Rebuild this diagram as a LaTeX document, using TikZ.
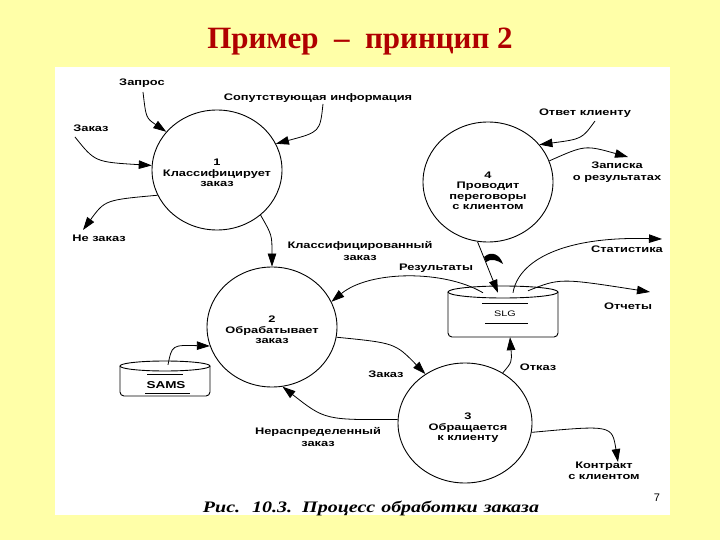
\documentclass[tikz,border=0pt]{standalone}
\usepackage{fontspec}
\setmainfont{Liberation Serif}
\newfontfamily\lblfont[FakeStretch=1.35]{Liberation Sans}
\newfontfamily\plainsans{Liberation Sans}
\newfontfamily\capfont[FakeStretch=1.25]{Liberation Serif}
\usetikzlibrary{arrows.meta,shapes.geometric}
\definecolor{slidebg}{RGB}{255,255,168}
\definecolor{titlered}{RGB}{176,0,0}
\begin{document}
\begin{tikzpicture}[x=1pt,y=-1pt,
  lbl/.style={font=\lblfont\bfseries\fontsize{9.5}{11.5}\selectfont, inner sep=0pt, align=center},
  ptxt/.style={font=\lblfont\bfseries\fontsize{9.5}{10.5}\selectfont, inner sep=0pt, align=center},
  proc/.style={draw, ellipse, line width=0.9pt, minimum width=130pt, minimum height=120pt, inner sep=0pt},
  flow/.style={line width=0.8pt, -{Triangle[length=13pt,width=8.5pt]}},
  store/.style={line width=0.9pt},
  hole/.style={inner sep=0pt}]
% background
\fill[slidebg] (0,0) rectangle (720,540);
\fill[white] (55,67) rectangle (670,515);
\useasboundingbox (0,0) rectangle (720,540);

% title
\node[font=\bfseries\fontsize{31}{34}\selectfont, text=titlered] (title) at (360,42) {Пример~~–~~принцип 2};

% processes
\node[proc] (c1) at (217,170) {};
\node[proc] (c2) at (272,327) {};
\node[proc, minimum width=134pt] (c3) at (465,423) {};
\node[proc] (c4) at (488,182) {};
\node[ptxt] (t1) at (217,173) {1\\Классифицирует\\заказ};
\node[ptxt] (t2) at (272,330) {2\\Обрабатывает\\заказ};
\node[ptxt] (t3) at (468,428) {3\\Обращается\\к клиенту};
\node[ptxt] (t4) at (488,191) {4\\Проводит\\переговоры\\с клиентом};

% store SLG
\node[hole, minimum width=110pt, minimum height=51pt] (slg) at (503,311.5) {};
\draw[store, rounded corners=4pt] (448,292) -- (448,337) -- (558,337) -- (558,292);
\draw[store] (503,292) ellipse [x radius=55pt, y radius=6pt];
\draw[line width=0.8pt] (482,303) -- (528,303);
\draw[line width=0.8pt] (485,323) -- (528,323);
\node[font=\lblfont\fontsize{8}{9}\selectfont, inner sep=0pt] (slgtxt) at (505,314) {SLG};

% store SAMS
\node[hole, minimum width=90pt, minimum height=35pt] (sams) at (165,378.5) {};
\draw[store, rounded corners=4pt] (120,366) -- (120,396) -- (210,396) -- (210,366);
\draw[store] (165,366) ellipse [x radius=45pt, y radius=5pt];
\draw[line width=0.8pt] (147,374) -- (183,374);
\draw[line width=0.8pt] (145,393) -- (190,393);
\node[font=\lblfont\bfseries\fontsize{10}{11}\selectfont, inner sep=0pt] (samstxt) at (166,385) {SAMS};

% labels
\node[lbl] (lZapros) at (142,83) {Запрос};
\node[lbl] (lSop) at (318,98) {Сопутствующая информация};
\node[lbl] (lZakaz) at (91,128) {Заказ};
\node[lbl] (lNe) at (99,238) {Не заказ};
\node[lbl] (lKlass) at (360,251) {Классифицированный\\заказ};
\node[lbl] (lRez) at (436,268) {Результаты};
\node[lbl] (lOtvet) at (585,113) {Ответ клиенту};
\node[lbl] (lZap) at (617,172) {Записка\\о результатах};
\node[lbl] (lStat) at (627,249) {Статистика};
\node[lbl] (lOtch) at (628,306) {Отчеты};
\node[lbl] (lOtkaz) at (538,367) {Отказ};
\node[lbl] (lZakaz2) at (386,374) {Заказ};
\node[lbl] (lNerasp) at (318,437) {Нераспределенный\\заказ};
\node[lbl] (lKontr) at (604,471) {Контракт\\с клиентом};

% free ends
\coordinate (qZapros) at (143,92);
\coordinate (qSop) at (323,104);
\coordinate (qZakaz) at (75,137);
\coordinate (qNe) at (83,230);
\coordinate (qOtvet) at (595,121);
\coordinate (qZap) at (628,157);
\coordinate (qStat) at (662,239);
\coordinate (qOtch) at (650,292);
\coordinate (qKontr) at (618,462);

% flows
\draw[flow] (qZapros) .. controls (146,118) .. (c1.143);
\draw[flow] (qSop) .. controls (320,132) .. (c1.24);
\draw[flow] (qZakaz) .. controls (95,162) .. (c1.176);
\draw[flow] (c1.203) .. controls (105,200) .. (qNe);
\draw[flow] (c1.-46) .. controls (272,235) .. (c2.90);
\draw[flow] (qOtvet) .. controls (582,139) .. (c4.36);
\draw[flow] (c4.19) .. controls (585,145) .. (qZap);
\draw[flow] (c4.-100) -- ([xshift=-5pt,yshift=-7pt]slg.north);
\draw[flow] ([xshift=10pt,yshift=-7pt]slg.north) .. controls (518,262) and (560,236) .. (qStat);
\draw[flow] ([xshift=25pt,yshift=-5pt]slg.north) .. controls (560,278) .. (qOtch);
\draw[flow] ([xshift=-20pt,yshift=-7pt]slg.north) .. controls (445,270) and (370,270) .. (c2.23);
\draw[flow] ([xshift=3pt,yshift=-4pt]sams.north) .. controls (172,345) .. (c2.197);
\draw[flow] (c2.-9) .. controls (395,343) .. (c3.129);
\draw[flow] (c3.177) .. controls (325,420) .. (c2.-80);
\draw[flow] (c3.53) .. controls (512,362) .. ([xshift=7pt]slg.south);
\draw[flow] (c3.-8) .. controls (612,425) .. (qKontr);

% smudge near SLG
\fill (484,257) .. controls (492,250) and (500,255) .. (503,264)
  .. controls (497,260) and (491,258) .. (486,262) -- cycle;

% caption and page number
\node[font=\capfont\bfseries\itshape\fontsize{16}{18}\selectfont, anchor=base] (cap) at (371,512) {Рис.\hspace{12pt}10.3.\hspace{10pt}Процесс\hspace{6pt}обработки\hspace{6pt}заказа};
\node[font=\plainsans\fontsize{11}{12}\selectfont] (pg) at (657,498) {7};
\end{tikzpicture}
\end{document}
